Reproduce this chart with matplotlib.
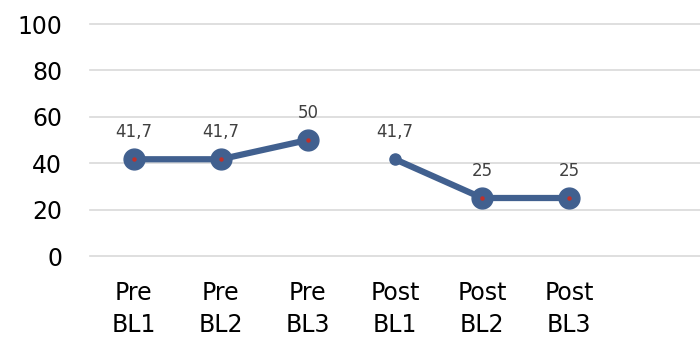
import matplotlib
matplotlib.use("Agg")
import matplotlib.pyplot as plt
import numpy as np

plt.rcParams['font.family'] = ['DejaVu Sans']

categories = ["Pre\nBL1", "Pre\nBL2", "Pre\nBL3", "Post\nBL1", "Post\nBL2", "Post\nBL3", ""]
pre_values = [41.7, 41.7, 50]
post_values = [41.7, 25, 25]
value_labels = ["41,7", "41,7", "50", "41,7", "25", "25"]
y_ticks = [0, 20, 40, 60, 80, 100]

line_color = "#41608F"
dot_color = "#C0302A"
label_color = "#404040"

fig = plt.figure(figsize=(7.0, 3.38), dpi=100)
ax = fig.add_axes([90 / 700, 1 - 256 / 338, 610 / 700, 232 / 338])

ax.set_xlim(-0.5, len(categories) - 0.5)
ax.set_ylim(0, 100)

for y in y_ticks:
    ax.axhline(y, color="#D9D9D9", lw=1.2, zorder=0, clip_on=False)

pre_x = np.arange(len(pre_values))
post_x = np.arange(len(post_values)) + len(pre_values)

ax.plot(pre_x, pre_values, color=line_color, lw=4.5, solid_capstyle="round", zorder=2)
ax.plot(post_x, post_values, color=line_color, lw=4.5, solid_capstyle="round", zorder=2)

# large markers with a small centre dot; the first post point has a small marker
all_x = np.concatenate([pre_x, post_x])
all_v = pre_values + post_values
for i, (x, v) in enumerate(zip(all_x, all_v)):
    if i == len(pre_values):
        ax.plot(x, v, "o", ms=8, color=line_color, zorder=3, clip_on=False)
    else:
        ax.plot(x, v, "o", ms=15, color=line_color, zorder=3, clip_on=False)
        ax.plot(x, v, "o", ms=2.2, color=dot_color, zorder=4, clip_on=False)
    ax.annotate(value_labels[i], (x, v), xytext=(0, 13), textcoords="offset points",
                ha="center", va="bottom", fontsize=12, color=label_color)

ax.set_xticks(np.arange(len(categories)))
ax.set_xticklabels(categories, fontsize=17, color="black", linespacing=1.4)
ax.set_yticks(y_ticks)
ax.set_yticklabels([str(t) for t in y_ticks], fontsize=17, color="black")
ax.tick_params(axis="both", length=0)
ax.tick_params(axis="y", pad=20)
ax.tick_params(axis="x", pad=18)

for s in ax.spines.values():
    s.set_visible(False)

fig.savefig("out.png", dpi=100, facecolor="white")
